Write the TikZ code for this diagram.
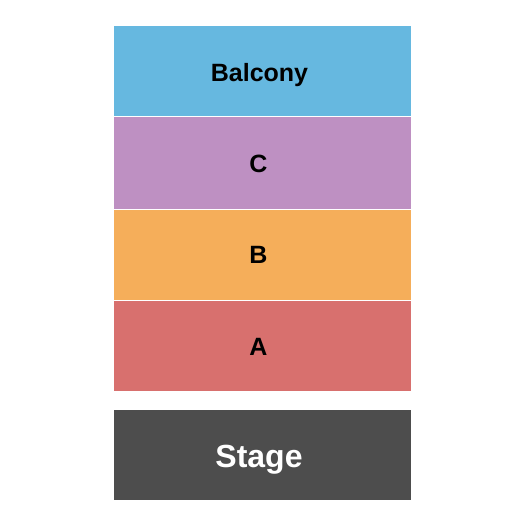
\documentclass[tikz,border=0pt]{standalone}
\usepackage{fontspec}
\setmainfont{Liberation Sans}
\definecolor{balc}{HTML}{66B8E0}
\definecolor{secc}{HTML}{BE90C2}
\definecolor{secb}{HTML}{F5AE5A}
\definecolor{seca}{HTML}{D8706E}
\definecolor{stg}{HTML}{4D4D4D}
\begin{document}
\begin{tikzpicture}[x=1pt,y=-1pt,
  sect/.style={draw=none,inner sep=0pt,outer sep=0pt,minimum width=297pt,anchor=north west,rectangle},
  lbl/.style={anchor=base,inner sep=0pt,font=\bfseries\fontsize{25}{25}\selectfont,text=black},
  stagelbl/.style={anchor=base,inner sep=0pt,font=\bfseries\fontsize{32}{32}\selectfont,text=white}]
\useasboundingbox (0,0) rectangle (525,525);
\node[sect,fill=balc,minimum height=90pt] (balcony) at (114,26) {};
\node[sect,fill=secc,minimum height=92pt] (c) at (114,117) {};
\node[sect,fill=secb,minimum height=90pt] (b) at (114,210) {};
\node[sect,fill=seca,minimum height=90pt] (a) at (114,301) {};
\node[sect,fill=stg,minimum height=90pt] (stage) at (114,410) {};
\node[lbl] (lbalcony) at (259.5,81.5) {Balcony};
\node[lbl] (lc) at (258.5,172.5) {C};
\node[lbl] (lb) at (258.5,263.5) {B};
\node[lbl] (la) at (258.5,355) {A};
\node[stagelbl] (lstage) at (259,467) {Stage};
\end{tikzpicture}
\end{document}
